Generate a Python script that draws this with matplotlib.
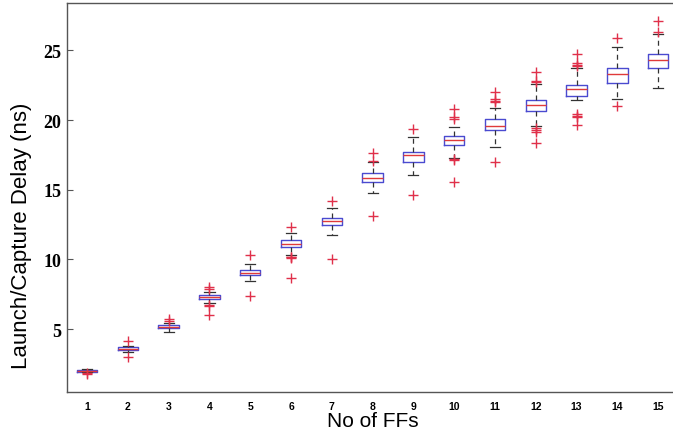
import matplotlib
matplotlib.use("Agg")
import matplotlib.pyplot as plt

# ---- data ----
n_ffs = list(range(1, 16))
x_labels = [str(i) for i in n_ffs]
y_ticks = [5, 10, 15, 20, 25]

medians = [2.0, 3.6, 5.17, 7.27, 9.04, 11.13, 12.74, 15.87, 17.47, 18.55, 19.6, 21.06, 22.2, 23.28, 24.28]
q1 = [1.95, 3.5, 5.06, 7.12, 8.86, 10.87, 12.48, 15.53, 17.0, 18.19, 19.25, 20.68, 21.74, 22.69, 23.72]
q3 = [2.05, 3.7, 5.28, 7.42, 9.27, 11.36, 13.0, 16.18, 17.74, 18.87, 20.05, 21.44, 22.54, 23.71, 24.75]
whisker_low = [1.88, 3.32, 4.77, 6.9, 8.44, 10.3, 11.74, 14.75, 16.06, 17.3, 18.1, 19.58, 21.42, 21.53, 22.33]
whisker_high = [2.1, 3.79, 5.43, 7.68, 9.64, 11.86, 13.72, 17.0, 18.8, 19.52, 20.84, 22.6, 23.77, 25.23, 26.2]
outliers = [
    [1.75, 1.82],
    [4.14, 2.96],
    [5.7, 5.55],
    [7.99, 7.88, 6.72, 6.63, 6.0],
    [10.3, 7.34],
    [12.33, 10.2, 10.14, 10.08, 8.64],
    [14.22, 10.0],
    [17.65, 17.05, 13.1],
    [19.34, 14.6],
    [20.82, 20.25, 20.1, 17.18, 17.1, 15.58],
    [22.04, 21.5, 21.4, 21.28, 17.02],
    [23.45, 22.8, 22.72, 19.45, 19.3, 19.15, 18.38],
    [24.75, 24.1, 23.98, 23.9, 20.45, 20.3, 20.22, 19.62],
    [25.92, 21.0],
    [27.1, 26.34],
]

stats = []
for i in range(len(n_ffs)):
    stats.append(dict(med=medians[i], q1=q1[i], q3=q3[i],
                      whislo=whisker_low[i], whishi=whisker_high[i],
                      fliers=outliers[i]))

fig = plt.figure(figsize=(6.73, 4.35), dpi=100)
ax = fig.add_axes([0.0991, 0.0972, 0.9091, 0.8936])

ax.bxp(stats, positions=n_ffs, widths=0.5, capwidths=0.25,
       boxprops=dict(color="#4a4ad0", linewidth=1.0),
       medianprops=dict(color="#e03a3a", linewidth=1.0),
       whiskerprops=dict(color="#333333", linewidth=0.9, linestyle=(0, (4, 3))),
       capprops=dict(color="#333333", linewidth=0.9),
       flierprops=dict(marker="+", markeredgecolor="#e0304a", markersize=7,
                       markeredgewidth=1.0, linestyle="none"))

ax.set_xlim(0.5, 15.5)
ax.set_ylim(0.5, 28.4)

ax.set_xticks(n_ffs)
ax.set_xticklabels(x_labels, fontfamily="Liberation Sans", fontweight="bold", fontsize=7.5)
ax.set_yticks(y_ticks)
ax.set_yticklabels([str(v) for v in y_ticks], fontfamily="Liberation Serif",
                   fontweight="bold", fontsize=13)

ax.tick_params(axis="x", length=0, pad=7)
ax.tick_params(axis="y", direction="in", length=4, width=0.8, color="#555555",
               right=True, pad=4)

for s in ax.spines.values():
    s.set_color("#555555")
    s.set_linewidth(1.0)

ax.set_xlabel("No of FFs", fontfamily="Liberation Sans", fontsize=15, labelpad=0)
ax.set_ylabel("Launch/Capture Delay (ns)", fontfamily="Liberation Sans", fontsize=16)
ax.yaxis.set_label_coords(-0.056, 0.403)

fig.savefig("out.png", dpi=100)
